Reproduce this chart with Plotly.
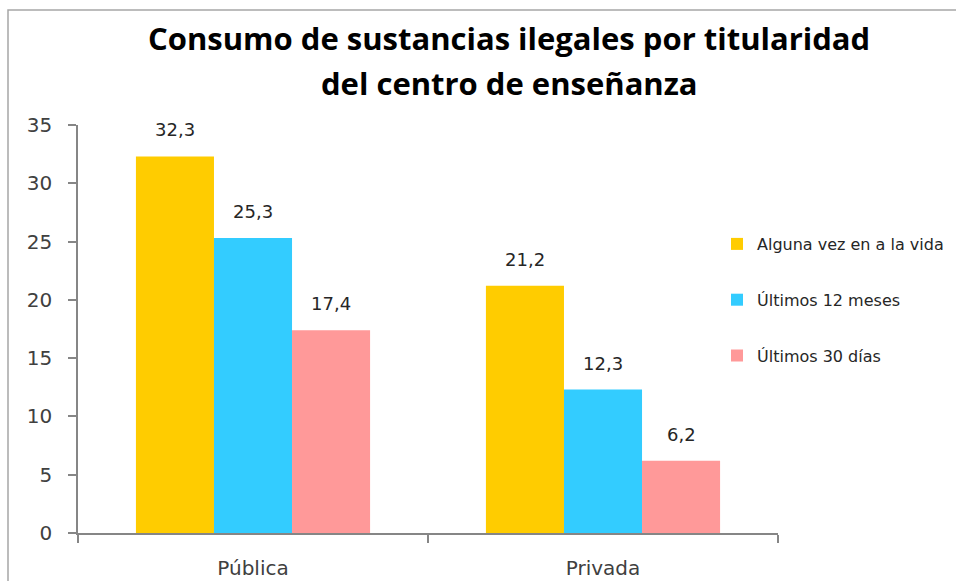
import plotly.graph_objects as go

categories = ["Pública", "Privada"]
series_names = ["Alguna vez en a la vida", "Últimos 12 meses", "Últimos 30 días"]
alguna_vez = [32.3, 21.2]
ultimos_12 = [25.3, 12.3]
ultimos_30 = [17.4, 6.2]
series_values = [alguna_vez, ultimos_12, ultimos_30]
colors = ["#FFCC00", "#33CCFF", "#FF9999"]
y_ticks = [0, 5, 10, 15, 20, 25, 30, 35]

W, H = 956, 581
L, R, T, B = 78, 178, 125, 48
plot_w = W - L - R
plot_h = H - T - B
bargap = 0.331

def px_to_paper_x(px):
    return (px - L) / plot_w

def px_to_paper_y(py):
    return (H - B - py) / plot_h

fig = go.Figure()
for i, (name, vals, col) in enumerate(zip(series_names, series_values, colors)):
    fig.add_trace(go.Bar(
        x=categories, y=vals, name=name, marker=dict(color=col, line=dict(width=0)),
        legendgroup=f"g{i}",
    ))

# data labels above bars
n = len(series_names)
w = (1 - bargap) / n
annotations = []
for i, vals in enumerate(series_values):
    for j, v in enumerate(vals):
        annotations.append(dict(
            x=j + (i - (n - 1) / 2) * w, y=v, xref="x", yref="y",
            text=f"{v:.1f}".replace(".", ","), showarrow=False,
            yanchor="bottom", yshift=14,
            font=dict(family="DejaVu Sans", size=18, color="#262626"),
        ))

title_font = dict(family="Open Sans", size=31, color="#000000")
annotations.append(dict(
    x=px_to_paper_x(509), y=px_to_paper_y(38), xref="paper", yref="paper",
    text="<b>Consumo de sustancias ilegales por titularidad</b>", showarrow=False,
    xanchor="center", yanchor="middle", font=title_font,
))
annotations.append(dict(
    x=px_to_paper_x(509), y=px_to_paper_y(83), xref="paper", yref="paper",
    text="<b>del centro de enseñanza</b>", showarrow=False,
    xanchor="center", yanchor="middle", font=title_font,
))

fig.update_layout(
    width=W, height=H,
    margin=dict(l=L, r=R, t=T, b=B, pad=0, autoexpand=False),
    paper_bgcolor="white", plot_bgcolor="white",
    barmode="group", bargap=bargap, bargroupgap=0,
    showlegend=True,
    legend=dict(
        x=px_to_paper_x(717), y=px_to_paper_y(227), xanchor="left", yanchor="top",
        font=dict(family="DejaVu Sans", size=16, color="#262626"),
        tracegroupgap=32, bgcolor="rgba(0,0,0,0)",
    ),
    annotations=annotations,
    shapes=[dict(
        type="rect", xref="paper", yref="paper",
        x0=px_to_paper_x(8), x1=px_to_paper_x(1000),
        y0=px_to_paper_y(600), y1=px_to_paper_y(10),
        line=dict(color="#A6A6A6", width=1.5), layer="below",
    )],
    font=dict(family="DejaVu Sans", color="#404040"),
)
fig.update_xaxes(
    type="category", showline=True, linecolor="#868686", linewidth=1.5,
    ticks="outside", tickson="boundaries", ticklen=8, tickcolor="#868686", tickwidth=1.5,
    tickfont=dict(family="DejaVu Sans", size=20, color="#404040"),
    showgrid=False, zeroline=False, ticklabelstandoff=16, automargin=False,
)
fig.update_yaxes(
    range=[0, 35], tickvals=y_ticks, ticktext=[str(t) for t in y_ticks],
    showline=True, linecolor="#868686", linewidth=1.5,
    ticks="outside", ticklen=8, tickcolor="#868686", tickwidth=1.5,
    tickfont=dict(family="DejaVu Sans", size=20, color="#404040"),
    showgrid=False, zeroline=False, ticklabelstandoff=12, automargin=False,
)

fig.write_html(
    "out.html",
    config={"displayModeBar": False},
    post_script="document.body.style.margin='0';document.body.style.overflow='hidden';",
)
